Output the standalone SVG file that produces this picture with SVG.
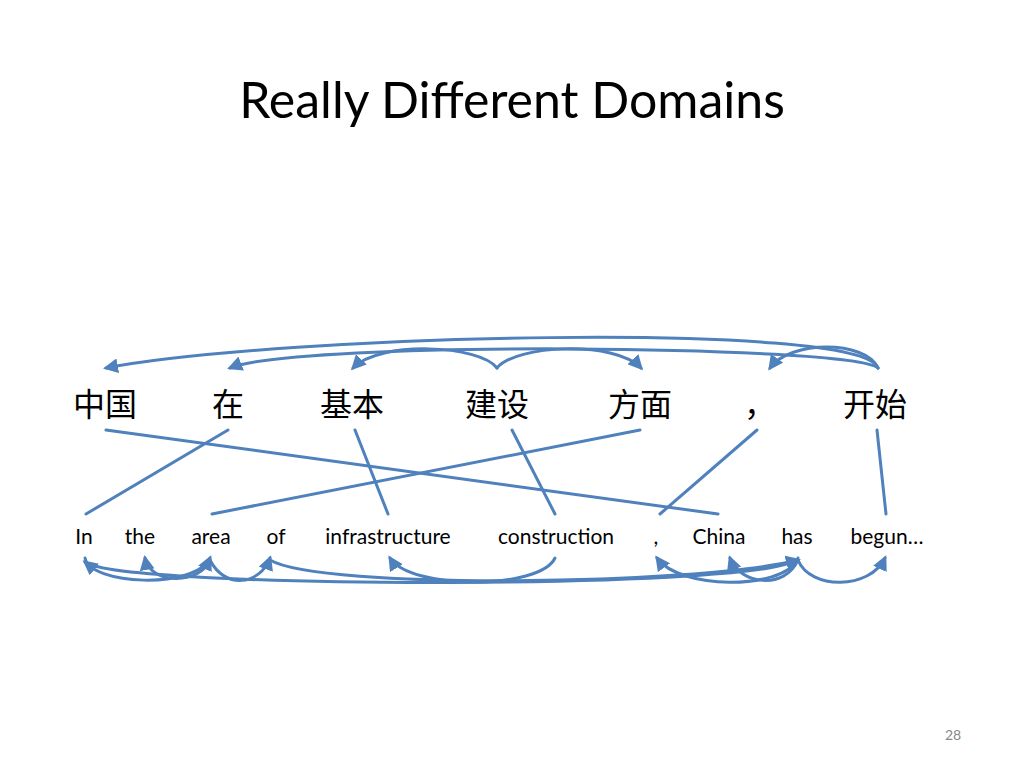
<svg xmlns="http://www.w3.org/2000/svg" width="1024" height="768" viewBox="0 0 1024 768">
<defs>
<marker id="ah" viewBox="0 0 10 10" refX="8" refY="5" markerWidth="5" markerHeight="5" orient="auto"><path d="M0,0L10,5L0,10z" fill="#4f81bd"/></marker>
</defs>
<style>
.c{fill:none;stroke:#4f81bd;stroke-width:3;stroke-linecap:round}
.a{marker-end:url(#ah)}
.zh{font-family:"Noto Sans CJK SC",sans-serif;font-size:32px;fill:#000;text-anchor:middle}
.en{font-family:Lato,"Liberation Sans",sans-serif;font-size:21px;fill:#000;text-anchor:middle}
</style>
<rect width="1024" height="768" fill="#fff"/>
<text x="512" y="118" font-family="Lato,'Liberation Sans',sans-serif" font-size="50" text-anchor="middle">Really Different Domains</text>
<text x="953" y="740" font-family="Lato,'Liberation Sans',sans-serif" font-size="14" fill="#888" text-anchor="middle">28</text>
<g id="zh-nodes">
<g id="z1"><text class="zh" x="105" y="416">中国</text></g>
<g id="z2"><text class="zh" x="228" y="416">在</text></g>
<g id="z3"><text class="zh" x="352" y="416">基本</text></g>
<g id="z4"><text class="zh" x="497" y="416">建设</text></g>
<g id="z5"><text class="zh" x="640" y="416">方面</text></g>
<g id="z6"><text class="zh" x="760" y="416">，</text></g>
<g id="z7"><text class="zh" x="875" y="416">开始</text></g>
</g>
<g id="en-nodes">
<g id="e1"><text class="en" x="84" y="544">In</text></g>
<g id="e2"><text class="en" x="140" y="544">the</text></g>
<g id="e3"><text class="en" x="211" y="544">area</text></g>
<g id="e4"><text class="en" x="276" y="544">of</text></g>
<g id="e5"><text class="en" x="388" y="544">infrastructure</text></g>
<g id="e6"><text class="en" x="556" y="544">construction</text></g>
<g id="e7"><text class="en" x="656" y="544">,</text></g>
<g id="e8"><text class="en" x="719" y="544">China</text></g>
<g id="e9"><text class="en" x="797" y="544">has</text></g>
<g id="e10"><text class="en" x="887" y="544">begun…</text></g>
</g>
<g id="connectors">
<path class="c a" d="M878,368 C860,320 280,335 106,368"/>
<path class="c a" d="M878,368 C850,345 300,340 230,368"/>
<path class="c a" d="M497,368 C480,345 380,340 353,368"/>
<path class="c a" d="M497,368 C515,345 615,340 641,368"/>
<path class="c a" d="M878,368 C865,340 790,340 770,368"/>
<path class="c" d="M106,430 L718,514"/>
<path class="c" d="M228,430 L86,514"/>
<path class="c" d="M355,430 L388,514"/>
<path class="c" d="M512,430 L555,514"/>
<path class="c" d="M640,430 L212,514"/>
<path class="c" d="M757,430 L660,514"/>
<path class="c" d="M877,430 L886,514"/>
<path class="c a" d="M85,558 C90,585 195,590 210,558"/>
<path class="c a" d="M210,560 C200,585 150,585 145,558"/>
<path class="c a" d="M210,560 C225,590 260,585 270,558"/>
<path class="c a" d="M798,558 C790,590 120,590 85,562"/>
<path class="c a" d="M270,560 C320,590 700,585 798,560"/>
<path class="c a" d="M555,558 C540,590 410,590 390,558"/>
<path class="c a" d="M798,560 C780,590 680,590 657,558"/>
<path class="c a" d="M798,560 C785,590 740,585 730,558"/>
<path class="c a" d="M798,560 C810,590 870,590 885,558"/>
</g>
</svg>
